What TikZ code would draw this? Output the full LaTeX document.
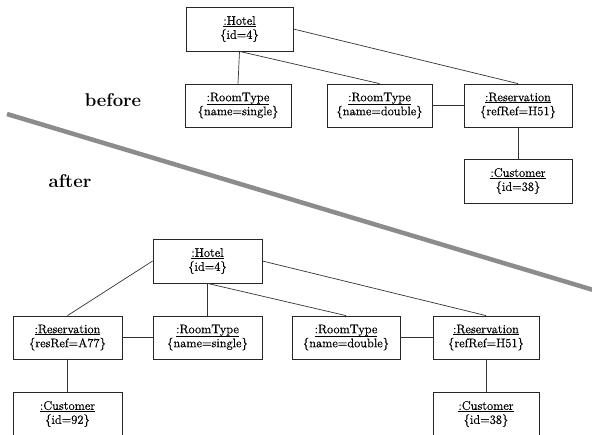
\documentclass[tikz,border=0pt]{standalone}
\usepackage{fontspec}
\usepackage{tikz}
\newfontfamily\objfont{Latin Modern Roman}[FakeBold=0.7]
\tikzset{
  obj/.style={draw=black!85, line width=0.8pt, fill=white, inner sep=0pt,
    align=center, font=\objfont\fontsize{12.5}{15}\selectfont, minimum height=43pt},
  link/.style={draw=black!80, line width=0.7pt},
  tag/.style={font=\fontsize{18.5}{20}\selectfont\bfseries, inner sep=0pt},
  divider/.style={draw=black!45, line width=4.5pt}
}
\newcommand{\uln}[1]{\leavevmode\vtop{\hbox{#1}\kern0.6pt\hrule height 0.7pt}}
\newcommand{\objtext}[2]{\uln{#1}\\[-1pt]\{#2\}}
\begin{document}
\begin{tikzpicture}[x=1pt,y=-1pt]
\useasboundingbox (0,0) rectangle (592,434);
\clip (0,0) rectangle (592,434);
\fill[white] (0,0) rectangle (592,434);

% divider
\coordinate (d1) at (7,114);
\coordinate (d2) at (600,292);
\draw[divider] (d1) -- (d2);

% labels
\node[tag] (before) at (113,100) {before};
\node[tag] (after) at (70,181) {after};

% before
\node[obj, minimum width=107pt, minimum height=44pt] (h1) at (239.5,29) {\objtext{:Hotel}{id=4}};
\node[obj, minimum width=106pt] (rs1) at (238,105.5) {\objtext{:RoomType}{name=single}};
\node[obj, minimum width=105pt] (rd1) at (379.5,105.5) {\objtext{:RoomType}{name=double}};
\node[obj, minimum width=108pt] (r1) at (518,105.5) {\objtext{:Reservation}{refRef=H51}};
\node[obj, minimum width=108pt, minimum height=44pt] (c1) at (518,181) {\objtext{:Customer}{id=38}};

\draw[link] (h1.south) -- (rs1.north);
\draw[link] (h1.south) -- (rd1.north);
\draw[link] (h1.east) -- (r1.north);
\draw[link] (rd1.east) -- (r1.west);
\draw[link] (r1.south) -- (c1.north);

% after
\node[obj, minimum width=109pt, minimum height=44pt] (h2) at (207.5,261) {\objtext{:Hotel}{id=4}};
\node[obj, minimum width=109pt] (ra2) at (67.5,337.5) {\objtext{:Reservation}{resRef=A77}};
\node[obj, minimum width=109pt] (rs2) at (207.5,337.5) {\objtext{:RoomType}{name=single}};
\node[obj, minimum width=108pt] (rd2) at (346,337.5) {\objtext{:RoomType}{name=double}};
\node[obj, minimum width=106pt] (rh2) at (486,337.5) {\objtext{:Reservation}{refRef=H51}};
\node[obj, minimum width=109pt, minimum height=44pt] (c92) at (67.5,414) {\objtext{:Customer}{id=92}};
\node[obj, minimum width=106pt, minimum height=44pt] (c38) at (486,414) {\objtext{:Customer}{id=38}};

\draw[link] (h2.west) -- (ra2.north);
\draw[link] (h2.south) -- (rs2.north);
\draw[link] (h2.south) -- (rd2.north);
\draw[link] (h2.east) -- (rh2.north);
\draw[link] (ra2.east) -- (rs2.west);
\draw[link] (rd2.east) -- (rh2.west);
\draw[link] (ra2.south) -- (c92.north);
\draw[link] (rh2.south) -- (c38.north);
\end{tikzpicture}
\end{document}
